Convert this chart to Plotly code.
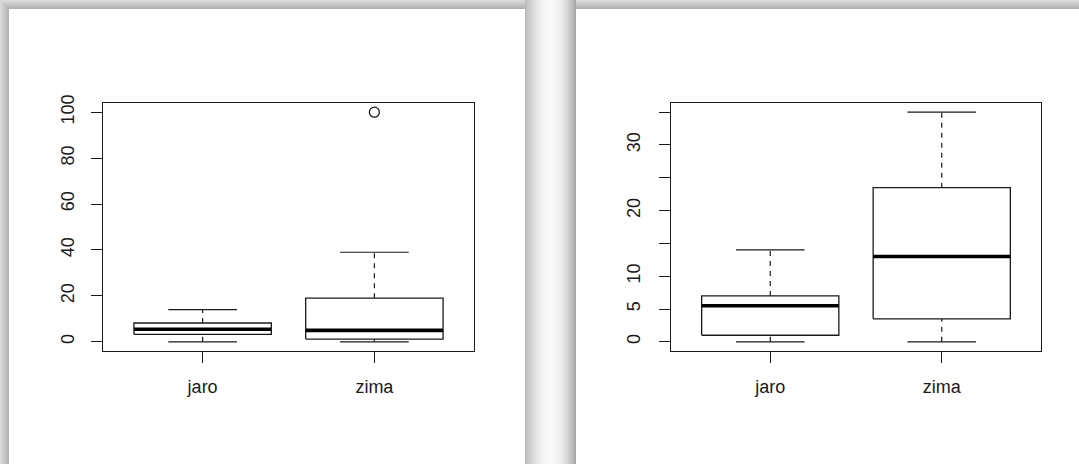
import math
import plotly.graph_objects as go

# ---------------- data ----------------
categories = ["jaro", "zima"]

left_lower = [0.0, 0.0]
left_q1 = [3.2, 1.2]
left_median = [5.5, 5.0]
left_q3 = [8.2, 19.0]
left_upper = [14.0, 39.0]
left_outliers = [[], [100.0]]
left_ticks = [0, 20, 40, 60, 80, 100]
left_ticktext = ["0", "20", "40", "60", "80", "100"]

right_lower = [0.0, 0.0]
right_q1 = [1.0, 3.5]
right_median = [5.5, 13.0]
right_q3 = [7.0, 23.5]
right_upper = [14.0, 35.0]
right_outliers = [[], []]
right_ticks = [0, 5, 10, 15, 20, 25, 30, 35]
right_ticktext = ["0", "5", "10", "", "20", "", "30", ""]

W, H = 1079, 464
FONT = "Liberation Sans, Arial, Helvetica, sans-serif"
INK = "#1a1a1a"

fig = go.Figure()


def add_boxplot(xa, ya, lower, q1, med, q3, upper, outliers):
    for i, _ in enumerate(categories):
        c = i + 1
        hw, cw = 0.4, 0.2
        common = dict(xaxis=xa, yaxis=ya, mode="lines", showlegend=False, hoverinfo="skip")
        # whiskers (dashed)
        fig.add_trace(go.Scatter(x=[c, c], y=[q3[i], upper[i]],
                                 line=dict(color=INK, width=1.2, dash="5px,5px"), **common))
        fig.add_trace(go.Scatter(x=[c, c], y=[lower[i], q1[i]],
                                 line=dict(color=INK, width=1.2, dash="5px,5px"), **common))
        # caps
        fig.add_trace(go.Scatter(x=[c - cw, c + cw], y=[upper[i], upper[i]],
                                 line=dict(color=INK, width=1.2), **common))
        fig.add_trace(go.Scatter(x=[c - cw, c + cw], y=[lower[i], lower[i]],
                                 line=dict(color=INK, width=1.2), **common))
        # box
        fig.add_trace(go.Scatter(x=[c - hw, c + hw, c + hw, c - hw, c - hw],
                                 y=[q1[i], q1[i], q3[i], q3[i], q1[i]],
                                 fill="toself", fillcolor="white",
                                 line=dict(color=INK, width=1.3), **common))
        # median
        fig.add_trace(go.Scatter(x=[c - hw, c + hw], y=[med[i], med[i]],
                                 line=dict(color="#000000", width=3.6), **common))
        # outliers
        if outliers[i]:
            fig.add_trace(go.Scatter(x=[c] * len(outliers[i]), y=outliers[i], xaxis=xa, yaxis=ya,
                                     mode="markers", showlegend=False, hoverinfo="skip",
                                     marker=dict(symbol="circle-open", size=10, color=INK,
                                                 line=dict(color=INK, width=1.3))))


add_boxplot("x", "y", left_lower, left_q1, left_median, left_q3, left_upper, left_outliers)
add_boxplot("x2", "y2", right_lower, right_q1, right_median, right_q3, right_upper, right_outliers)


def px_x(v):
    return v / W


def px_y(v):
    return 1 - v / H


def rng(lo, hi):
    d = (hi - lo) * 0.04
    return [lo - d, hi + d]


xaxis_common = dict(range=[0.42, 2.58], tickvals=[1, 2], ticktext=categories,
                    showgrid=False, zeroline=False, showline=True, mirror=True,
                    automargin=False,
                    linecolor=INK, linewidth=1.3, ticks="outside", ticklen=11,
                    tickwidth=1.2, tickcolor=INK, ticklabelstandoff=8,
                    tickfont=dict(family=FONT, size=18, color=INK))
yaxis_common = dict(showgrid=False, zeroline=False, showline=True, mirror=True,
                    automargin=False,
                    linecolor=INK, linewidth=1.3, ticks="outside", ticklen=11,
                    tickwidth=1.2, tickcolor=INK, tickangle=-90,
                    tickfont=dict(family=FONT, size=18, color=INK))

y_dom = [px_y(351), px_y(103)]

shapes = []


def rect(x0, y0, x1, y1, g):
    col = f"rgb({g},{g},{g})"
    shapes.append(dict(type="rect", xref="paper", yref="paper",
                       x0=px_x(x0), x1=px_x(x1), y0=px_y(y1), y1=px_y(y0),
                       line=dict(width=0), fillcolor=col, layer="below"))


# top shadow strip (y 0..9) over the two panels
for r in range(9):
    g = int(218 - (218 - 178) * r / 8)
    rect(0, r, 525, r + 1, g)
    rect(576, r, W, r + 1, g)
# left shadow strip (x 0..9)
for c in range(9):
    g = int(218 - (218 - 178) * c / 8)
    rect(c, c + 1, c + 1, H, g)
# gap between the two panels (x 525..576)
gw = 51
for c in range(gw):
    t = (c + 0.5) / gw
    edge = 185 + (165 - 185) * t
    g = int(edge + (250 - edge) * math.sin(math.pi * t) ** 0.9)
    rect(525 + c, 0, 526 + c, H, g)

fig.update_layout(
    template="none",
    width=W, height=H,
    margin=dict(l=0, r=0, t=0, b=0, autoexpand=False),
    paper_bgcolor="white", plot_bgcolor="white",
    showlegend=False,
    shapes=shapes,
    xaxis=dict(domain=[px_x(103), px_x(474)], anchor="y", **xaxis_common),
    yaxis=dict(domain=y_dom, anchor="x", range=rng(0, 100), ticklabelstandoff=10,
               tickvals=left_ticks, ticktext=left_ticktext, **yaxis_common),
    xaxis2=dict(domain=[px_x(670.8), px_x(1041.2)], anchor="y2", **xaxis_common),
    yaxis2=dict(domain=y_dom, anchor="x2", range=rng(0, 35), ticklabelstandoff=11,
                tickvals=right_ticks, ticktext=right_ticktext, **yaxis_common),
)

fig.write_html("out.html")
